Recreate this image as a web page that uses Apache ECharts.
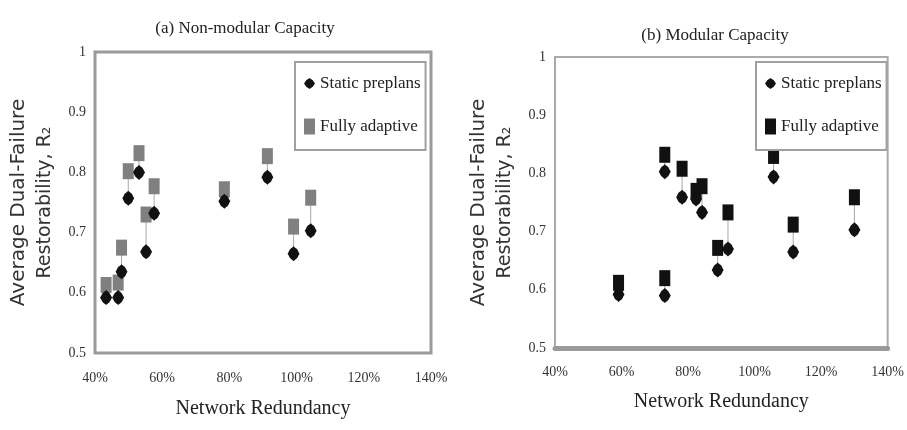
<!DOCTYPE html>
<html>
<head>
<meta charset="utf-8">
<script src="https://cdn.jsdelivr.net/npm/echarts@6/dist/echarts.min.js"></script>
<style>html,body{margin:0;padding:0;background:#fff;}#c{width:907px;height:430px;}</style>
</head>
<body>
<div id="c"></div>
<script>
// Panel (a) Non-modular capacity
const aRedundancy = [43.3, 46.9, 47.9, 49.9, 53.1, 55.2, 57.6, 78.5, 91.3, 99.1, 104.2];
const aStatic     = [0.592, 0.592, 0.635, 0.757, 0.800, 0.668, 0.732, 0.752, 0.792, 0.665, 0.703];
const aAdaptive   = [0.613, 0.617, 0.675, 0.802, 0.832, 0.730, 0.777, 0.772, 0.827, 0.710, 0.758];
// Panel (b) Modular capacity
const bRedundancy = [59.1, 73.0, 73.0, 78.2, 82.4, 84.2, 88.9, 92.0, 105.7, 111.6, 130.0];
const bStatic     = [0.592, 0.590, 0.803, 0.759, 0.756, 0.733, 0.634, 0.670, 0.794, 0.665, 0.703];
const bAdaptive   = [0.612, 0.620, 0.832, 0.808, 0.770, 0.778, 0.672, 0.733, 0.830, 0.712, 0.759];

const titles = ['(a) Non-modular Capacity', '(b) Modular Capacity'];
const seriesNames = ['Static preplans', 'Fully adaptive'];
const xAxisName = 'Network Redundancy';
const yAxisLine1 = 'Average Dual-Failure';
const yAxisLine2 = 'Restorability, R\u2082';

// Marker shape: a round dot with small spikes (as in the original figure)
function makeStaticSymbol() {
  const parts = [];
  const n = 32;
  for (let k = 0; k < n; k++) {
    const ang = (k / n) * Math.PI * 2;
    let r = 5.0;
    const m = k % (n / 4);
    if (m === 0) r = 6.0;
    else if (m === 1 || m === n / 4 - 1) r = 5.3;
    const x = 6 + r * Math.sin(ang);
    const y = 6 - r * Math.cos(ang);
    parts.push((k === 0 ? 'M' : 'L') + x.toFixed(2) + ' ' + y.toFixed(2));
  }
  return 'path://' + parts.join(' ') + ' Z';
}
const staticSymbol = makeStaticSymbol();
const serif = 'Liberation Serif';
const sans = 'DejaVu Sans';

function pts(xs, ys) { return xs.map((x, i) => [x, ys[i]]); }
function drops(xs, lo, hi) { return xs.map((x, i) => [x, lo[i], hi[i]]); }

function xAxis(gi, bottomLine) {
  return {
    type: 'value', gridIndex: gi, min: 40, max: 140, interval: 20,
    name: xAxisName, nameLocation: 'middle', nameGap: gi === 0 ? 46 : 44,
    nameTextStyle: { fontFamily: serif, fontSize: 20, color: '#222' },
    axisLine: bottomLine ? { show: true, onZero: false, lineStyle: { color: '#9a9a9a', width: 5 } } : { show: false },
    axisTick: { show: false },
    splitLine: { show: false },
    axisLabel: { formatter: '{value}%', fontFamily: serif, fontSize: 14, color: '#333', margin: gi === 0 ? 18 : 17 }
  };
}
function yAxis(gi) {
  return {
    type: 'value', gridIndex: gi, min: 0.5, max: 1, interval: 0.1,
    name: '{a|' + yAxisLine1 + '}\n{b|' + yAxisLine2 + '}',
    nameLocation: 'middle', nameGap: 37, nameRotate: 90,
    nameTextStyle: {
      fontFamily: sans, color: '#333', lineHeight: 26,
      rich: {
        a: { fontFamily: sans, fontSize: 20, color: '#333', lineHeight: 26 },
        b: { fontFamily: sans, fontSize: 19, color: '#333', lineHeight: 26 }
      }
    },
    axisLine: { show: false }, axisTick: { show: false }, splitLine: { show: false },
    axisLabel: { fontFamily: serif, fontSize: 14, color: '#333', margin: 9 }
  };
}
function legend(gi, left, top, color) {
  return {
    left: left, top: top, orient: 'vertical',
    padding: [13, 5, 15, 9], itemGap: 26, itemWidth: 11, itemHeight: 16,
    borderColor: '#a0a0a0', borderWidth: 2, backgroundColor: '#fff',
    textStyle: { fontFamily: serif, fontSize: 17, color: '#222' },
    selectedMode: false,
    data: [
      { name: seriesNames[0], icon: staticSymbol, itemStyle: { color: '#111' } },
      { name: seriesNames[1], icon: 'rect', itemStyle: { color: color } }
    ]
  };
}
function panelSeries(gi, xs, st, ad, adColor) {
  return [
    {
      type: 'custom', xAxisIndex: gi, yAxisIndex: gi, silent: true, z: 1,
      data: drops(xs, st, ad), encode: { x: 0, y: [1, 2] },
      renderItem: function (params, api) {
        const p1 = api.coord([api.value(0), api.value(1)]);
        const p2 = api.coord([api.value(0), api.value(2)]);
        return { type: 'line', shape: { x1: p1[0], y1: p1[1], x2: p2[0], y2: p2[1] }, style: { stroke: '#a8a8a8', lineWidth: 1 } };
      }
    },
    {
      name: seriesNames[1], type: 'scatter', xAxisIndex: gi, yAxisIndex: gi, z: 2,
      symbol: 'rect', symbolSize: [11, 16], itemStyle: { color: adColor, opacity: 1 },
      data: pts(xs, ad)
    },
    {
      name: seriesNames[0], type: 'scatter', xAxisIndex: gi, yAxisIndex: gi, z: 3,
      symbol: staticSymbol, symbolSize: [12, 15], itemStyle: { color: '#111', opacity: 1 },
      data: pts(xs, st)
    }
  ];
}

const chart = echarts.init(document.getElementById('c'));
chart.setOption({
  backgroundColor: '#fff',
  animation: false,
  title: [
    { text: titles[0], left: 240, top: 15, textAlign: 'center', textStyle: { fontFamily: serif, fontSize: 17, fontWeight: 'normal', color: '#222' } },
    { text: titles[1], left: 710, top: 22, textAlign: 'center', textStyle: { fontFamily: serif, fontSize: 17, fontWeight: 'normal', color: '#222' } }
  ],
  grid: [
    { left: 95, top: 52, width: 336, height: 301, show: true, borderColor: '#9a9a9a', borderWidth: 3, backgroundColor: 'transparent' },
    { left: 555, top: 57, width: 336, height: 291, show: true, borderColor: '#aaaaaa', borderWidth: 2, backgroundColor: 'transparent' }
  ],
  xAxis: [xAxis(0, false), xAxis(1, true)],
  yAxis: [yAxis(0), yAxis(1)],
  legend: [legend(0, 295, 62, '#808080'), legend(1, 756, 62, '#111')],
  series: panelSeries(0, aRedundancy, aStatic, aAdaptive, '#808080')
    .concat(panelSeries(1, bRedundancy, bStatic, bAdaptive, '#111'))
});
</script>
</body>
</html>
